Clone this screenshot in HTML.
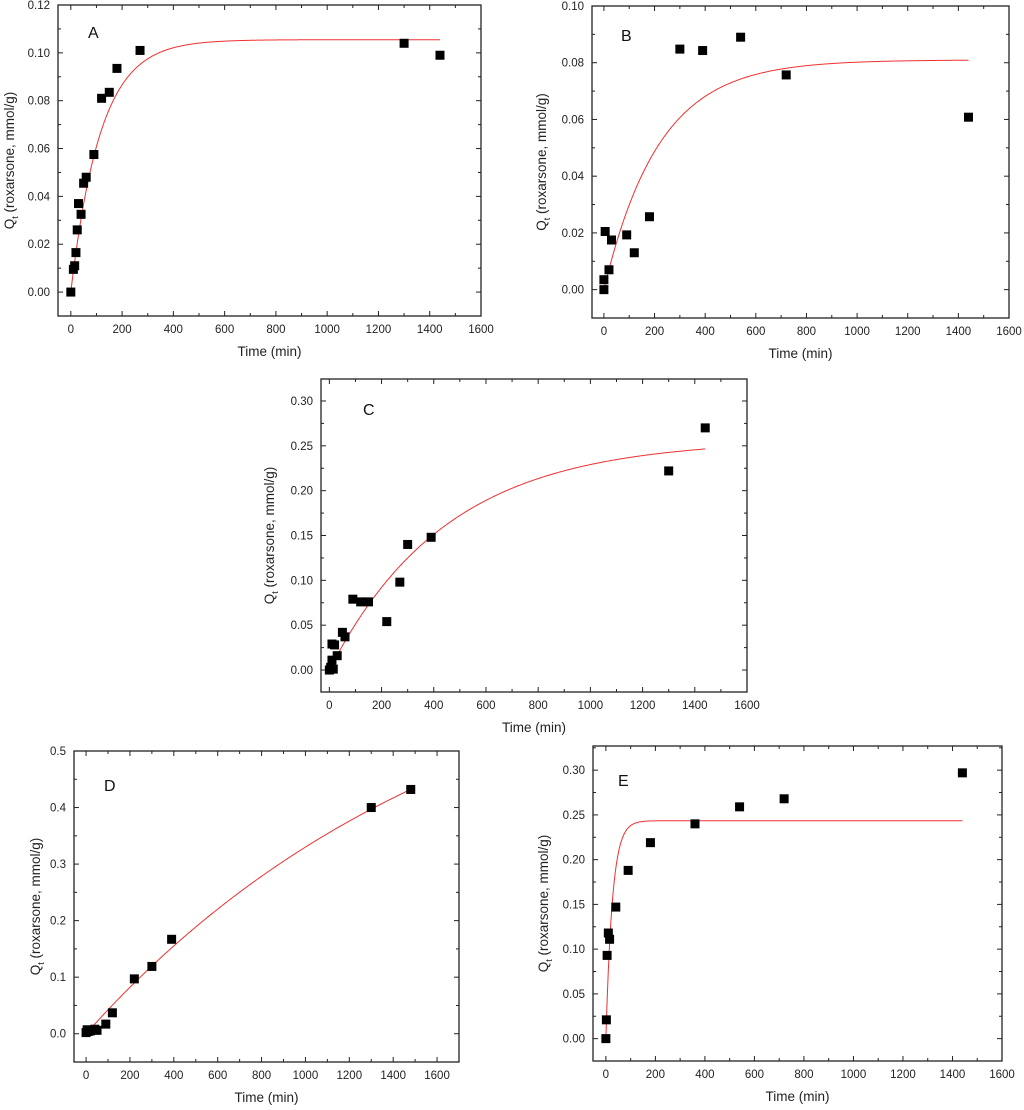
<!DOCTYPE html>
<html><head><meta charset="utf-8">
<style>
html,body{margin:0;padding:0;background:#fff;}
svg{display:block;font-family:"Liberation Sans",Arial,sans-serif;}
</style></head>
<body>
<svg id="fig" width="1024" height="1110" viewBox="0 0 1024 1110" xmlns="http://www.w3.org/2000/svg"></svg>
<script>
// ---- Data ----
const timeTicks = [0,200,400,600,800,1000,1200,1400,1600];
const aTime = [0,10,15,20,25,30,40,50,60,90,120,150,180,270,1300,1440];
const aQt = [0,0.0095,0.011,0.0165,0.026,0.037,0.0325,0.0455,0.048,0.0575,0.081,0.0835,0.0935,0.101,0.104,0.099];
const aYTicks = [0,0.02,0.04,0.06,0.08,0.10,0.12];
const aFit = [0.1055,0.0086,1440];
const bTime = [0,0,5,20,30,90,120,180,300,390,540,720,1440];
const bQt = [0,0.0035,0.0205,0.007,0.0175,0.0193,0.013,0.0257,0.0848,0.0843,0.089,0.0757,0.0608];
const bYTicks = [0,0.02,0.04,0.06,0.08,0.10];
const bFit = [0.081,0.0046,1440];
const cTime = [0,5,10,10,20,15,30,50,60,90,120,150,220,270,300,390,1300,1440];
const cQt = [0,0.003,0.011,0.029,0.028,0.001,0.016,0.042,0.037,0.079,0.076,0.076,0.054,0.098,0.140,0.148,0.222,0.270];
const cYTicks = [0,0.05,0.10,0.15,0.20,0.25,0.30];
const cFit = [0.257,0.00222,1440];
const dTime = [0,5,10,20,40,50,90,120,220,300,390,1300,1480];
const dQt = [0.002,0.007,0.004,0.005,0.008,0.006,0.017,0.037,0.097,0.119,0.167,0.400,0.432];
const dYTicks = [0,0.1,0.2,0.3,0.4,0.5];
const dFit = [0.75,0.00058,1480];
const eTime = [0,2,5,10,15,40,90,180,360,540,720,1440];
const eQt = [0,0.021,0.093,0.118,0.111,0.147,0.188,0.219,0.240,0.259,0.268,0.297];
const eYTicks = [0,0.05,0.10,0.15,0.20,0.25,0.30];
const eFit = [0.2435,0.038,1440];

const NS="http://www.w3.org/2000/svg";
const svg=document.getElementById('fig');
function mk(tag,attrs,parent){const e=document.createElementNS(NS,tag);for(const k in attrs)e.setAttribute(k,attrs[k]);(parent||svg).appendChild(e);return e;}

function panel(o){
  const g=mk('g',{});
  
  
  const xs=v=>o.x0+(v-o.xmin)/(o.xmax-o.xmin)*(o.x1-o.x0);
  const ys=v=>o.y1-(v-o.ymin)/(o.ymax-o.ymin)*(o.y1-o.y0);
  const frame=mk('rect',{x:o.x0,y:o.y0,width:o.x1-o.x0,height:o.y1-o.y0,fill:'none',stroke:'#222','stroke-width':1.3},g);
  
  
  const xt=o.xticks;
  for(let i=0;i<xt.length;i++){
    const X=xs(xt[i]);
    mk('line',{x1:X,x2:X,y1:o.y1,y2:o.y1-5,stroke:'#222','stroke-width':1},g);
    mk('line',{x1:X,x2:X,y1:o.y0,y2:o.y0+5,stroke:'#222','stroke-width':1},g);
    const t=mk('text',{x:X,y:o.y1+17,'font-size':11.5,'text-anchor':'middle',fill:'#222'},g);
    t.textContent=xt[i];
    
    
    if(i<xt.length-1){const m=xs((xt[i]+xt[i+1])/2);
      mk('line',{x1:m,x2:m,y1:o.y1,y2:o.y1-3,stroke:'#222','stroke-width':1},g);
      mk('line',{x1:m,x2:m,y1:o.y0,y2:o.y0+3,stroke:'#222','stroke-width':1},g);}
  }
  const yt=o.yticks;
  for(let i=0;i<yt.length;i++){
    const Y=ys(yt[i]);
    mk('line',{x1:o.x0,x2:o.x0+5,y1:Y,y2:Y,stroke:'#222','stroke-width':1},g);
    mk('line',{x1:o.x1,x2:o.x1-5,y1:Y,y2:Y,stroke:'#222','stroke-width':1},g);
    const t=mk('text',{x:o.x0-8,y:Y+4,'font-size':11.5,'text-anchor':'end',fill:'#222'},g);
    t.textContent=yt[i].toFixed(o.dec);
    
    
    const step=yt[1]-yt[0];
    for(const m of [yt[i]-step/2, yt[i]+step/2]){
      if(m>o.ymin&&m<o.ymax&&(i==0||m>yt[i])){const M=ys(m);
        mk('line',{x1:o.x0,x2:o.x0+3,y1:M,y2:M,stroke:'#222','stroke-width':1},g);
        mk('line',{x1:o.x1,x2:o.x1-3,y1:M,y2:M,stroke:'#222','stroke-width':1},g);}
    }
  }
  const [qe,k,tend]=o.fit;let d='';
  for(let i=0;i<=300;i++){const t=tend*i/300;const q=qe*(1-Math.exp(-k*t));d+=(i?'L':'M')+xs(t).toFixed(2)+','+ys(q).toFixed(2);}
  const c=mk('path',{d:d,fill:'none',stroke:'#f03030','stroke-width':1},g);
  
  
  for(let i=0;i<o.tx.length;i++){
    const r=mk('rect',{x:xs(o.tx[i])-4.5,y:ys(o.qy[i])-4.5,width:9,height:9,fill:'#000'},g);
    
    
  }
  const lab=mk('text',{x:o.lx,y:o.ly,'font-size':16,fill:'#111'},g);
  lab.textContent=o.id;
  
  
  const xtit=mk('text',{x:(o.x0+o.x1)/2,y:o.y1+40,'font-size':13.5,'text-anchor':'middle',fill:'#222'},g);
  xtit.textContent='Time (min)';
  
  
  const cy=(o.y0+o.y1)/2;
  const ytit=mk('text',{x:0,y:0,'font-size':13.5,'text-anchor':'middle',fill:'#222',transform:`translate(${o.yx},${cy}) rotate(-90)`},g);
  ytit.innerHTML='Q<tspan font-size="9" dy="4">t</tspan><tspan dy="-4"> (roxarsone, mmol/g)</tspan>';
  
  
}

panel({id:'A',x0:58,x1:481,y0:5,y1:316,xmin:-50,xmax:1600,ymin:-0.01,ymax:0.12,xticks:timeTicks,yticks:aYTicks,dec:2,tx:aTime,qy:aQt,fit:aFit,lx:88,ly:38,yx:14});
panel({id:'B',x0:592,x1:1009,y0:6,y1:318,xmin:-47,xmax:1600,ymin:-0.01,ymax:0.10,xticks:timeTicks,yticks:bYTicks,dec:2,tx:bTime,qy:bQt,fit:bFit,lx:621,ly:41,yx:546});
panel({id:'C',x0:321,x1:747,y0:379,y1:692,xmin:-32,xmax:1600,ymin:-0.0245,ymax:0.3245,xticks:timeTicks,yticks:cYTicks,dec:2,tx:cTime,qy:cQt,fit:cFit,lx:363,ly:415,yx:274});
panel({id:'D',x0:74,x1:459,y0:751,y1:1062,xmin:-55,xmax:1700,ymin:-0.05,ymax:0.5,xticks:timeTicks,yticks:dYTicks,dec:1,tx:dTime,qy:dQt,fit:dFit,lx:104,ly:791,yx:40});
panel({id:'E',x0:593,x1:1002,y0:746,y1:1061,xmin:-52,xmax:1600,ymin:-0.025,ymax:0.327,xticks:timeTicks,yticks:eYTicks,dec:2,tx:eTime,qy:eQt,fit:eFit,lx:618,ly:786,yx:548});
</script>
</body></html>
